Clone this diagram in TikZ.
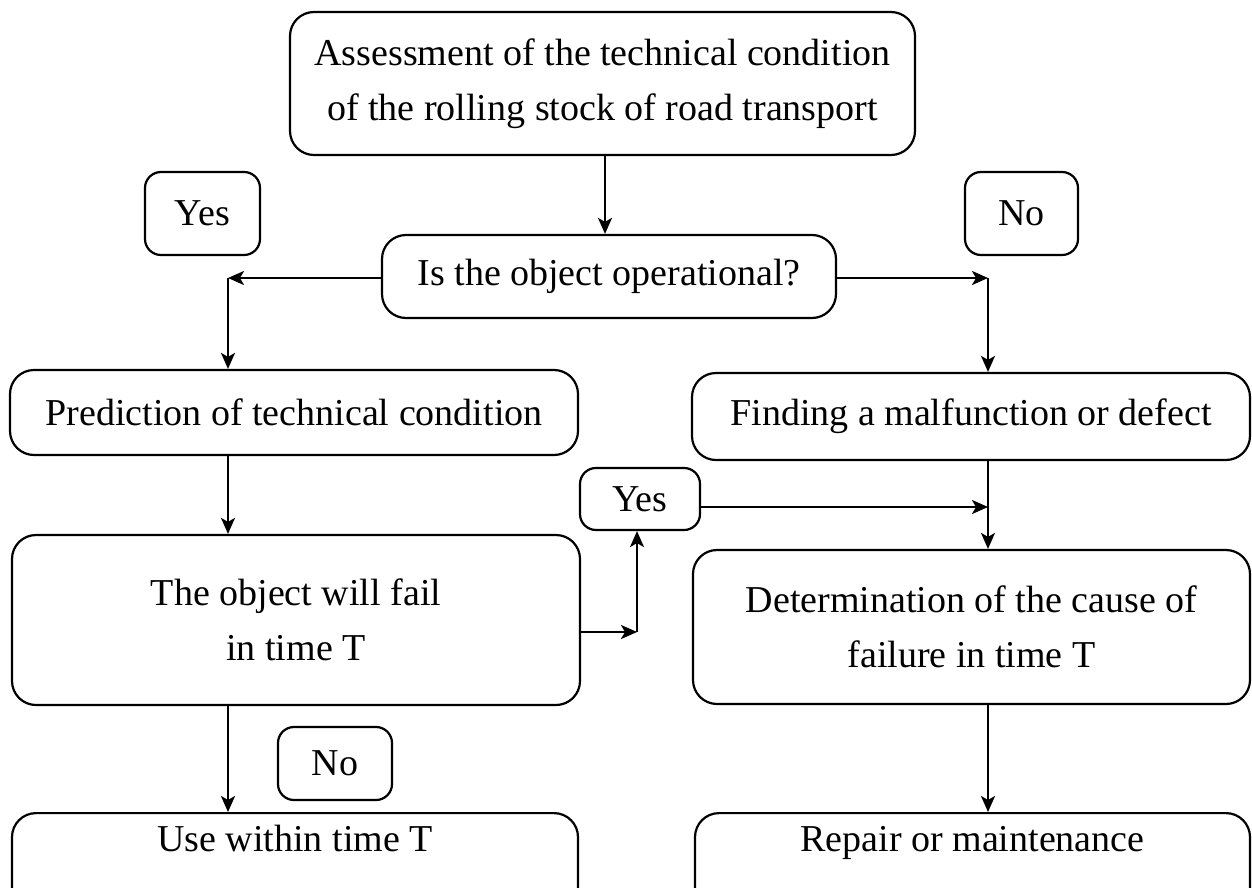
\documentclass[tikz,border=0pt]{standalone}
\usepackage{fontspec}
\setmainfont{Liberation Serif}
\usetikzlibrary{arrows.meta}
\begin{document}
\begin{tikzpicture}[x=0.5pt, y=-0.5pt,
    box/.style={draw, line width=1.1pt, rounded corners=12pt, align=center, inner sep=0pt,
        font=\fontsize{19}{27.5}\selectfont},
    tag/.style={box, rounded corners=8pt},
    cut/.style={box, anchor=north, text height=19pt, text depth=31pt},
    arr/.style={line width=1.1pt, -{Stealth[length=8pt, width=7pt, inset=2pt]}}]
    \useasboundingbox (0,0) rectangle (1252,888);
    % Draw the boxes
    \node[box, minimum width=312.5pt, minimum height=71.5pt] (assess) at (602.5,83.5)
        {Assessment of the technical condition\\of the rolling stock of road transport};
    \node[box, minimum width=227pt, minimum height=41.5pt] (oper) at (609,276.5) {Is the object operational?};
    \node[box, minimum width=284pt, minimum height=42.5pt] (pred) at (294,412.5) {Prediction of technical condition};
    \node[box, minimum width=279pt, minimum height=43.5pt] (find) at (971,416.5) {Finding a malfunction or defect};
    \node[box, minimum width=284pt, minimum height=85pt] (fail) at (296,620) {The object will fail\\in time T};
    \node[box, minimum width=278.5pt, minimum height=77pt] (determ) at (971.5,627)
        {Determination of the cause of\\failure in time T};
    \node[cut, minimum width=283pt] (use) at (295,812) {Use within time T};
    \node[cut, minimum width=277.5pt] (repair) at (972.5,812) {Repair or maintenance};
    % Draw the answer tags
    \node[tag, minimum width=57.5pt, minimum height=41.5pt] (yesL) at (202.5,213.5) {Yes};
    \node[tag, minimum width=56.5pt, minimum height=41.5pt] (noR) at (1021.5,213.5) {No};
    \node[tag, minimum width=60pt, minimum height=31pt] (yesM) at (640,499) {Yes};
    \node[tag, minimum width=57pt, minimum height=36.5pt] (noM) at (335,763.5) {No};
    % Corners of the connections
    \coordinate (jL) at (228,278);
    \coordinate (jR) at (988,278);
    \coordinate (jM) at (637,632);
    \coordinate (jY) at (988,507);
    % Draw the connections
    \draw[arr] (assess.south -| 605,0) -- (oper.north -| 605,0);
    \draw[arr] (oper.west |- jL) -- (jL);
    \draw[arr] (jL) -- (jL |- pred.north);
    \draw[arr] (oper.east |- jR) -- (jR);
    \draw[arr] (jR) -- (jR |- find.north);
    \draw[arr] (jL |- pred.south) -- (jL |- fail.north);
    \draw[arr] (fail.east |- jM) -- (jM);
    \draw[arr] (jM) -- (jM |- yesM.south);
    \draw[arr] (yesM.east |- jY) -- (jY);
    \draw[arr] (jR |- find.south) -- (jR |- determ.north);
    \draw[arr] (jL |- fail.south) -- (jL |- use.north);
    \draw[arr] (jR |- determ.south) -- (jR |- repair.north);
\end{tikzpicture}
\end{document}
